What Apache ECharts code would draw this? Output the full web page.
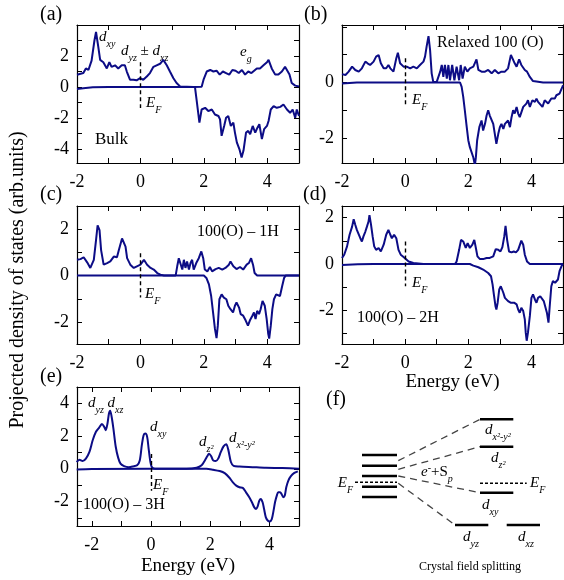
<!DOCTYPE html>
<html>
<head>
<meta charset="utf-8">
<script src="https://cdn.jsdelivr.net/npm/echarts@6/dist/echarts.min.js"></script>
<style>
  html, body { margin: 0; padding: 0; background: #fff; }
  #chart { width: 564px; height: 580px; }
</style>
</head>
<body>
<div id="chart"></div>
<script>
// ---- data: [energy (eV), PDOS] pairs, up = majority, dn = minority ----
const bulkUp = [[-2,0.79],[-1.8,0.9],[-1.72,1.2],[-1.64,1.1],[-1.54,1.7],[-1.45,3.0],[-1.4,3.55],[-1.33,2.6],[-1.27,1.75],[-1.17,1.6],[-1.06,1.2],[-0.98,1.6],[-0.91,1.3],[-0.8,1.4],[-0.7,1.2],[-0.59,1.4],[-0.49,1.4],[-0.43,1.0],[-0.33,0.47],[-0.22,0.47],[-0.12,0.43],[-0.01,0.57],[0.09,0.47],[0.2,0.68],[0.3,0.9],[0.41,1.3],[0.51,1.4],[0.62,1.5],[0.72,1.75],[0.83,1.4],[0.93,1.0],[1.04,0.57],[1.14,0.26],[1.25,0.04],[1.67,0],[1.93,0.02],[1.99,0.47],[2.09,1.0],[2.2,1.1],[2.3,1.0],[2.4,1.05],[2.5,0.8],[2.6,1.0],[2.7,0.9],[2.8,0.8],[2.9,1.1],[3.0,1.05],[3.1,0.9],[3.2,1.1],[3.3,0.8],[3.4,1.0],[3.5,0.9],[3.56,1.0],[3.67,1.2],[3.77,1.2],[3.88,1.4],[3.99,1.6],[4.04,1.75],[4.14,1.2],[4.25,0.8],[4.35,0.8],[4.46,1.0],[4.56,1.3],[4.61,1.4],[4.7,0.8],[4.77,0.26],[4.88,0.09],[5,0.04]];
const bulkDn = [[-2,-0.13],[-1.8,-0.08],[-1.5,-0.02],[-1.0,0],[1.72,0],[1.77,-0.81],[1.86,-2.3],[1.93,-1.45],[2.04,-1.34],[2.14,-1.55],[2.25,-1.45],[2.35,-1.77],[2.46,-1.87],[2.51,-2.09],[2.56,-3.15],[2.64,-2.51],[2.7,-1.98],[2.77,-1.87],[2.85,-2.51],[2.93,-2.3],[2.98,-2.94],[3.04,-3.57],[3.12,-4.0],[3.19,-4.55],[3.25,-4.1],[3.33,-2.94],[3.4,-2.83],[3.46,-3.04],[3.54,-2.51],[3.62,-2.94],[3.69,-2.62],[3.75,-2.4],[3.83,-3.36],[3.9,-2.72],[3.99,-2.51],[4.04,-2.19],[4.11,-1.45],[4.2,-1.23],[4.3,-1.34],[4.41,-1.28],[4.51,-1.13],[4.62,-1.45],[4.72,-1.66],[4.8,-1.45],[4.88,-1.98],[4.93,-1.45],[5,-1.87]];

const relaxUp = [[-2,0.3],[-1.89,0.27],[-1.79,0.39],[-1.68,0.57],[-1.58,0.45],[-1.47,0.39],[-1.37,0.51],[-1.26,0.75],[-1.19,0.69],[-1.11,0.63],[-1.0,0.75],[-0.92,0.93],[-0.84,0.99],[-0.77,0.69],[-0.68,0.51],[-0.6,0.51],[-0.53,0.63],[-0.47,0.51],[-0.37,0.39],[-0.28,0.87],[-0.23,1.07],[-0.16,0.69],[-0.05,0.57],[0.05,0.57],[0.16,0.51],[0.26,0.57],[0.37,0.51],[0.47,0.63],[0.58,0.75],[0.63,0.93],[0.68,1.29],[0.74,1.67],[0.79,1.17],[0.84,0.33],[0.89,0.02],[1.0,0.02],[1.11,0.39],[1.16,0.63],[1.21,0.2],[1.26,0.63],[1.32,0.14],[1.37,0.63],[1.42,0.08],[1.49,0.63],[1.56,0.08],[1.63,0.57],[1.71,0.08],[1.76,0.63],[1.82,0.14],[1.89,0.57],[1.97,0.39],[2.05,0.51],[2.16,0.57],[2.26,0.83],[2.32,0.45],[2.42,0.39],[2.53,0.39],[2.63,0.45],[2.74,0.33],[2.84,0.45],[2.95,0.33],[3.05,0.39],[3.16,0.39],[3.26,0.51],[3.35,0.99],[3.4,0.87],[3.47,0.69],[3.53,0.57],[3.61,0.83],[3.68,0.63],[3.79,0.45],[3.86,0.39],[3.95,0.2],[4.05,0.05],[4.37,0],[5,0]];
const relaxDn = [[-2,-0.04],[-1.53,0],[1.74,0],[1.79,-0.16],[1.84,-0.52],[1.89,-1.0],[1.95,-1.6],[2.0,-2.08],[2.05,-2.33],[2.11,-2.39],[2.16,-2.7],[2.21,-2.98],[2.24,-2.7],[2.28,-2.09],[2.35,-1.61],[2.42,-1.37],[2.47,-1.73],[2.53,-1.49],[2.58,-1.19],[2.63,-1.0],[2.68,-1.19],[2.74,-1.25],[2.79,-1.49],[2.84,-1.85],[2.89,-2.21],[2.95,-1.85],[3.0,-1.61],[3.05,-1.49],[3.11,-1.67],[3.16,-1.49],[3.21,-1.55],[3.26,-1.37],[3.32,-1.61],[3.37,-1.25],[3.42,-1.0],[3.47,-1.12],[3.53,-0.88],[3.58,-1.12],[3.63,-1.25],[3.74,-0.88],[3.79,-0.94],[3.84,-0.76],[3.89,-0.64],[3.95,-0.88],[4.03,-0.64],[4.11,-0.7],[4.16,-0.58],[4.21,-0.7],[4.26,-0.7],[4.35,-0.88],[4.42,-0.64],[4.53,-0.76],[4.63,-0.58],[4.74,-0.58],[4.79,-0.46],[4.89,-0.4],[4.98,-0.16],[5,-0.1]];

const h1Up = [[-2,0.68],[-1.89,0.71],[-1.79,0.79],[-1.68,0.57],[-1.58,0.33],[-1.47,0.68],[-1.4,1.53],[-1.35,2.17],[-1.29,1.96],[-1.24,1.1],[-1.16,0.47],[-1.05,0.54],[-0.95,0.61],[-0.84,0.82],[-0.79,0.89],[-0.74,0.79],[-0.68,1.1],[-0.58,1.6],[-0.53,1.6],[-0.47,1.25],[-0.42,0.75],[-0.32,0.47],[-0.21,0.33],[-0.11,0.4],[0,0.47],[0.11,0.68],[0.21,0.47],[0.32,0.33],[0.42,0.26],[0.53,0.11],[0.63,0.04],[0.74,0],[1.11,0],[1.16,0.4],[1.21,0.75],[1.26,0.71],[1.32,0.26],[1.37,0.68],[1.42,0.33],[1.47,0.61],[1.53,0.26],[1.58,0.54],[1.63,0.68],[1.68,0.26],[1.76,0.54],[1.84,0.75],[1.92,1.04],[1.98,0.75],[2.03,0.26],[2.11,0.18],[2.19,0.37],[2.26,0.18],[2.37,0.28],[2.47,0.33],[2.58,0.26],[2.68,0.33],[2.79,0.47],[2.84,0.61],[2.93,0.4],[3.03,0.28],[3.14,0.37],[3.24,0.26],[3.35,0.47],[3.42,0.54],[3.49,0.75],[3.55,0.47],[3.6,0.11],[3.68,0],[5,0]];
const h1Dn = [[-2,0],[2.0,0],[2.08,-0.1],[2.16,-0.38],[2.23,-0.88],[2.29,-1.59],[2.35,-2.3],[2.4,-2.7],[2.44,-2.16],[2.49,-1.02],[2.56,-0.81],[2.63,-0.95],[2.71,-1.02],[2.77,-1.3],[2.84,-1.45],[2.92,-1.59],[2.98,-1.3],[3.03,-1.16],[3.11,-1.38],[3.16,-1.66],[3.24,-1.73],[3.32,-1.94],[3.39,-2.16],[3.45,-1.94],[3.53,-1.73],[3.58,-1.59],[3.63,-1.87],[3.68,-1.52],[3.74,-1.66],[3.79,-1.45],[3.85,-1.09],[3.92,-1.3],[3.98,-1.87],[4.03,-2.51],[4.06,-2.72],[4.11,-2.16],[4.16,-1.45],[4.21,-1.02],[4.28,-0.81],[4.34,-0.74],[4.4,-0.88],[4.47,-0.45],[4.53,-0.1],[4.58,0],[5,0]];

const h2Up = [[-2,0.26],[-1.93,0.4],[-1.84,0.76],[-1.76,1.26],[-1.68,1.61],[-1.63,1.93],[-1.58,1.69],[-1.53,1.47],[-1.47,1.4],[-1.42,1.11],[-1.37,0.97],[-1.32,1.19],[-1.26,1.4],[-1.21,1.61],[-1.16,1.83],[-1.13,2.11],[-1.08,1.69],[-1.03,1.19],[-0.98,0.76],[-0.92,0.61],[-0.84,0.69],[-0.77,0.54],[-0.68,0.83],[-0.6,1.26],[-0.53,1.47],[-0.47,1.26],[-0.42,1.11],[-0.35,1.26],[-0.28,1.11],[-0.21,0.61],[-0.14,0.4],[-0.05,0.3],[0,0.26],[0.11,0.11],[0.26,0.04],[0.58,0],[1.58,0],[1.63,0.11],[1.71,0.61],[1.77,1.04],[1.84,0.97],[1.92,0.69],[1.98,0.9],[2.05,0.69],[2.13,0.83],[2.19,1.04],[2.24,0.69],[2.29,0.33],[2.37,0.21],[2.47,0.21],[2.58,0.26],[2.68,0.26],[2.79,0.33],[2.87,0.64],[2.95,0.61],[3.02,0.54],[3.08,0.73],[3.14,1.19],[3.18,1.64],[3.23,1.04],[3.29,0.54],[3.37,0.5],[3.44,0.54],[3.51,0.5],[3.58,0.61],[3.63,0.61],[3.68,1.01],[3.74,0.83],[3.79,0.4],[3.86,0.11],[3.95,0],[5,0]];
const h2Dn = [[-2,-0.04],[-1.5,-0.01],[-1,0],[2.05,0],[2.16,-0.07],[2.32,-0.14],[2.47,-0.24],[2.63,-0.39],[2.72,-0.53],[2.77,-0.89],[2.81,-1.31],[2.86,-1.81],[2.89,-1.96],[2.93,-1.67],[2.98,-1.1],[3.03,-0.96],[3.11,-1.24],[3.16,-1.46],[3.21,-1.46],[3.26,-1.6],[3.34,-1.67],[3.4,-1.6],[3.45,-1.67],[3.53,-1.74],[3.58,-1.96],[3.63,-2.1],[3.68,-1.89],[3.74,-2.03],[3.79,-2.39],[3.82,-2.96],[3.85,-3.31],[3.89,-2.96],[3.95,-2.24],[4.0,-1.46],[4.05,-1.31],[4.11,-1.53],[4.16,-1.67],[4.21,-1.46],[4.28,-1.39],[4.34,-1.46],[4.39,-1.6],[4.44,-1.53],[4.49,-2.1],[4.54,-2.53],[4.58,-1.81],[4.63,-0.96],[4.68,-0.74],[4.75,-0.81],[4.79,-0.89],[4.84,-0.67],[4.89,-0.31],[4.95,-0.1],[5,0]];

const h3Up = [[-2.51,0.41],[-2.42,0.55],[-2.31,0.47],[-2.2,0.62],[-2.08,1.03],[-1.97,1.74],[-1.86,2.26],[-1.75,2.52],[-1.66,2.73],[-1.58,2.56],[-1.53,2.36],[-1.47,2.77],[-1.42,3.38],[-1.38,3.55],[-1.33,3.18],[-1.27,2.46],[-1.19,1.33],[-1.11,0.68],[-1.03,0.31],[-0.91,0.16],[-0.75,0.1],[-0.58,0.16],[-0.47,0.21],[-0.38,0.51],[-0.31,1.44],[-0.25,2.05],[-0.19,2.15],[-0.13,1.95],[-0.08,1.23],[-0.02,0.41],[0.03,0.1],[0.14,0],[1.2,0],[1.54,0.06],[1.71,0.21],[1.82,0.51],[1.9,0.76],[1.96,0.92],[2.03,0.78],[2.1,0.51],[2.19,0.47],[2.27,0.62],[2.36,1.03],[2.45,1.37],[2.54,1.5],[2.61,1.17],[2.7,0.41],[2.79,0.18],[2.99,0.14],[3.43,0.1],[3.88,0.06],[4.44,0.04],[5,0]];
const h3Dn = [[-2.51,-0.04],[-2,-0.01],[1.87,0],[2.1,-0.06],[2.32,-0.14],[2.49,-0.27],[2.65,-0.55],[2.76,-0.82],[2.88,-1.03],[2.99,-1.13],[3.1,-1.17],[3.21,-1.44],[3.32,-1.74],[3.41,-2.05],[3.49,-2.36],[3.55,-2.46],[3.6,-2.32],[3.66,-1.95],[3.71,-1.85],[3.77,-2.05],[3.82,-2.46],[3.88,-2.97],[3.95,-3.18],[4.01,-3.22],[4.08,-3.08],[4.14,-2.56],[4.19,-2.05],[4.25,-1.64],[4.3,-1.44],[4.36,-1.44],[4.41,-1.54],[4.47,-1.74],[4.52,-1.64],[4.57,-1.13],[4.64,-0.72],[4.72,-0.47],[4.83,-0.27],[4.96,-0.16]];

// vertical extent of the dashed E_F marker in each panel
const efA = [1.6, -1.35], efB = [0.87, -0.78], efC = [0.96, -0.95], efD = [0.97, -0.96], efE = [0.9, -1.35];

// axis ranges and ticks
const xRange = [-2, 5], xRangeE = [-2.5, 5];
const xTicks = [-2, -1, 0, 1, 2, 3, 4, 5];
const xLabels = [-2, 0, 2, 4];
const yRangeA = [-4.9, 4.0], yRangeB = [-2.9, 2.07], yRangeC = [-2.95, 3.0], yRangeD = [-3.45, 2.5], yRangeE = [-3.5, 5.0];
const yTicksA = [-4, -3, -2, -1, 0, 1, 2, 3], yLabelsA = [-4, -2, 0, 2];
const yTicksB = [-2, -1, 0, 1, 2], yLabelsB = [-2, 0];
const yTicksC = [-2, -1, 0, 1, 2], yLabelsC = [-2, 0, 2];
const yTicksD = [-3, -2, -1, 0, 1, 2], yLabelsD = [-2, 0, 2];
const yTicksE = [-3, -2, -1, 0, 1, 2, 3, 4], yLabelsE = [-2, 0, 2, 4];

// crystal field diagram (f), schematic units
const fStackLevels = [8.5, 7.43, 6.4, 5.33, 4.3];
const fStackSpan = [2.2, 5.7];
const fSplitLevels = [[12.07, 14, 17.33], [9.33, 14, 17.33], [4.73, 14, 17.33], [1.5, 11.5, 14.83], [1.5, 16.67, 20]];
const fFermi = [[5.77, 1.5, 5.7], [5.67, 14, 18.67]];
const fLinks = [[5.83, 7.93, 14, 12.07], [5.83, 7.07, 14, 9.33], [5.83, 6.4, 14, 4.73], [5.83, 5.67, 11.5, 1.5]];

// ---- layout ----
const serif = 'Liberation Serif';
const lineColor = '#0c0c86';
const panels = [
  { up: bulkUp, dn: bulkDn, ef: efA, x: xRange, y: yRangeA, yt: yTicksA, yl: yLabelsA, grid: { left: 77, top: 25, width: 222, height: 138 } },
  { up: relaxUp, dn: relaxDn, ef: efB, x: xRange, y: yRangeB, yt: yTicksB, yl: yLabelsB, grid: { left: 342, top: 25, width: 221, height: 138 } },
  { up: h1Up, dn: h1Dn, ef: efC, x: xRange, y: yRangeC, yt: yTicksC, yl: yLabelsC, grid: { left: 77, top: 206, width: 222, height: 138 } },
  { up: h2Up, dn: h2Dn, ef: efD, x: xRange, y: yRangeD, yt: yTicksD, yl: yLabelsD, grid: { left: 342, top: 206, width: 221, height: 138 }, name: 27 },
  { up: h3Up, dn: h3Dn, ef: efE, x: xRangeE, y: yRangeE, yt: yTicksE, yl: yLabelsE, grid: { left: 77, top: 387, width: 222, height: 139 }, name: 31, smooth: 0.3 }
];

const grids = [], xAxes = [], yAxes = [], series = [];
const tickFont = { fontFamily: serif, fontSize: 18, color: '#000' };
const frame = { show: true, onZero: false, lineStyle: { color: '#000', width: 1.2 } };

panels.forEach((p, i) => {
  grids.push(p.grid);
  ['bottom', 'top'].forEach(pos => {
    xAxes.push({
      type: 'value', gridIndex: i, position: pos, min: p.x[0], max: p.x[1],
      axisLine: frame,
      axisTick: { show: true, inside: true, length: 5, customValues: xTicks, lineStyle: { color: '#000' } },
      axisLabel: { show: pos === 'bottom', customValues: xLabels, margin: 10, ...tickFont },
      splitLine: { show: false },
      name: (pos === 'bottom' && p.name) ? 'Energy (eV)' : '',
      nameLocation: 'middle', nameGap: p.name || 0,
      nameTextStyle: { fontFamily: serif, fontSize: 19, color: '#000' }
    });
  });
  ['left', 'right'].forEach(pos => {
    yAxes.push({
      type: 'value', gridIndex: i, position: pos, min: p.y[0], max: p.y[1],
      axisLine: frame,
      axisTick: { show: true, inside: true, length: 5, customValues: p.yt, lineStyle: { color: '#000' } },
      axisLabel: { show: pos === 'left', customValues: p.yl, margin: 8, ...tickFont },
      splitLine: { show: false }
    });
  });
  const base = {
    type: 'line', xAxisIndex: 2 * i, yAxisIndex: 2 * i, showSymbol: false, smooth: p.smooth || false,
    lineStyle: { color: lineColor, width: 2 }, itemStyle: { color: lineColor }, silent: true
  };
  series.push({
    ...base, data: p.up,
    markLine: {
      silent: true, symbol: ['none', 'none'], label: { show: false },
      lineStyle: { color: '#000', type: [4, 3], width: 1.4 },
      data: [[{ coord: [0, p.ef[0]] }, { coord: [0, p.ef[1]] }]]
    }
  });
  series.push({ ...base, data: p.dn });
});

// panel (f): hidden axes used as a schematic energy scale
const fi = panels.length;
grids.push({ left: 340, top: 410, width: 220, height: 170 });
xAxes.push({ type: 'value', gridIndex: fi, min: 0, max: 22, show: false });
yAxes.push({ type: 'value', gridIndex: fi, min: -4, max: 13, show: false });
const fBase = { type: 'line', xAxisIndex: 2 * fi, yAxisIndex: 2 * fi, showSymbol: false, silent: true };
fStackLevels.forEach(y => series.push({ ...fBase, data: [[fStackSpan[0], y], [fStackSpan[1], y]], lineStyle: { color: '#000', width: 2.6 } }));
fSplitLevels.forEach(l => series.push({ ...fBase, data: [[l[1], l[0]], [l[2], l[0]]], lineStyle: { color: '#000', width: 2.4 } }));
fFermi.forEach(l => series.push({ ...fBase, data: [[l[1], l[0]], [l[2], l[0]]], lineStyle: { color: '#000', width: 1.5, type: [3, 2] } }));
fLinks.forEach(l => series.push({ ...fBase, data: [[l[0], l[1]], [l[2], l[3]]], lineStyle: { color: '#444', width: 1.3, type: [7, 5] } }));

// ---- annotations ----
const rich = {
  i: { fontFamily: serif, fontStyle: 'italic', fontSize: 15, lineHeight: 22, fill: '#000' },
  r: { fontFamily: serif, fontSize: 15, lineHeight: 22, fill: '#000' },
  s: { fontFamily: serif, fontStyle: 'italic', fontSize: 10, lineHeight: 10, verticalAlign: 'top', padding: [13, 0, 0, 0], fill: '#000' },
  u: { fontFamily: serif, fontSize: 10, lineHeight: 10, verticalAlign: 'top', padding: [2, 0, 0, 0], fill: '#000' }
};
function txt(x, y, text, size, align, extra) {
  return {
    type: 'text', x: x, y: y, silent: true,
    style: Object.assign({
      text: text, rich: rich, fill: '#000', fontFamily: serif, fontSize: size || 16,
      align: align || 'left', textAlign: align || 'left', verticalAlign: 'middle', textVerticalAlign: 'middle'
    }, extra || {})
  };
}
const EF = '{i|E}{s|F}';
const graphics = [
  txt(40, 15, '(a)', 20), txt(304, 15, '(b)', 20), txt(40, 195, '(c)', 20),
  txt(303, 195, '(d)', 20), txt(40, 377, '(e)', 20), txt(326, 400, '(f)', 20),
  // (a)
  txt(99, 37, '{i|d}{s|xy}'), txt(121, 51, '{i|d}{s|yz}{r| ± }{i|d}{s|xz}'), txt(240, 52, '{i|e}{s|g}'),
  txt(146, 103, EF), txt(95, 140, 'Bulk', 17),
  // (b)
  txt(437, 43, 'Relaxed 100 (O)', 16), txt(412, 100, EF),
  // (c)
  txt(197, 232, '100(O) – 1H', 16), txt(145, 294, EF),
  // (d)
  txt(357, 318, '100(O) – 2H', 16), txt(412, 283, EF),
  // (e)
  txt(88, 403, '{i|d}{s|yz}{r| }{i|d}{s|xz}'), txt(150, 427, '{i|d}{s|xy}'),
  txt(199, 442, '{i|d}{s|z²}'), txt(229, 438, '{i|d}{s|x²-y²}'),
  txt(153, 485, EF), txt(83, 505, '100(O) – 3H', 16),
  // (f)
  txt(353, 483, EF, 16, 'right'), txt(485, 430, '{i|d}{s|x²-y²}'), txt(491, 458, '{i|d}{s|z²}'),
  txt(421, 472, '{i|e}{u|-}{r|+S}{s|p}'), txt(530, 483, EF),
  txt(482, 505, '{i|d}{s|xy}'), txt(463, 537, '{i|d}{s|yz}'), txt(518, 537, '{i|d}{s|xz}'),
  txt(470, 567, 'Crystal field splitting', 12, 'center'),
  // shared y title
  Object.assign(txt(18, 280, 'Projected density of states (arb.units)', 20, 'center'), { rotation: Math.PI / 2 })
];

const chart = echarts.init(document.getElementById('chart'), null, { renderer: 'canvas' });
chart.setOption({
  animation: false,
  backgroundColor: '#fff',
  grid: grids,
  xAxis: xAxes,
  yAxis: yAxes,
  series: series,
  graphic: { elements: graphics }
});
</script>
</body>
</html>
